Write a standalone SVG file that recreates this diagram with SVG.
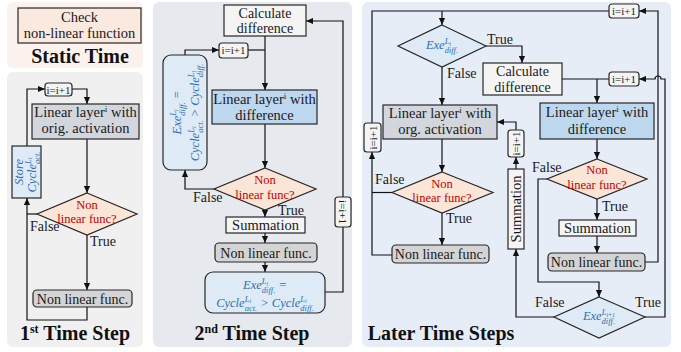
<svg xmlns="http://www.w3.org/2000/svg" width="681" height="352" viewBox="0 0 681 352">
<defs>
<marker id="ah" viewBox="0 0 8 8" refX="8" refY="4" markerWidth="7" markerHeight="7" markerUnits="userSpaceOnUse" orient="auto"><path d="M0,0.5 L8,4 L0,7.5 z" fill="#111"/></marker>
<style>
.t{font-family:"Liberation Serif","Times New Roman",serif;font-size:14.5px;fill:#1a1a1a;text-anchor:middle}
.nf{font-size:14px}
.cd{font-size:14px}
.inc{font-family:"Liberation Serif","Times New Roman",serif;font-size:11px;fill:#1a1a1a;text-anchor:middle}
.lab{font-family:"Liberation Serif","Times New Roman",serif;font-size:14px;fill:#1a1a1a}
.title{font-family:"Liberation Serif","Times New Roman",serif;font-size:20px;font-weight:bold;fill:#111;text-anchor:middle}
.red{font-family:"Liberation Serif","Times New Roman",serif;font-size:12.5px;fill:#c00000;text-anchor:middle}
.m{font-family:"Liberation Serif","Times New Roman",serif;font-style:italic;font-size:12.5px;fill:#2f6eb0;text-anchor:middle}
.sp{font-size:8.5px}
.ss{font-size:6px}
.bx{stroke:#262626;stroke-width:1.2}
.gray{fill:#d3d7dd}
.blue{fill:#bdd7ee}
.light{fill:#f4f4f4}
.nlf{fill:#d4d4d4}
.dia{fill:#fbe5d6}
.exe{fill:#deebf7}
.c{fill:none;stroke:#111;stroke-width:1.2}
.a{marker-end:url(#ah)}
</style>
</defs>

<!-- panel backgrounds -->
<rect x="7" y="2" width="136" height="66" rx="6" fill="#fcf2ed"/>
<rect x="7" y="72" width="136" height="275" rx="6" fill="#f0f0f0"/>
<rect x="153" y="2" width="199" height="345" rx="6" fill="#e6e9ee"/>
<rect x="362" y="2" width="309" height="345" rx="6" fill="#e7edf7"/>

<!-- panel titles -->
<text class="title" x="80" y="63">Static Time</text>
<text class="title" x="75" y="340">1<tspan font-size="12" dy="-7">st</tspan><tspan dy="7"> Time Step</tspan></text>
<text class="title" x="252" y="340">2<tspan font-size="12" dy="-7">nd</tspan><tspan dy="7"> Time Step</tspan></text>
<text class="title" x="441" y="340">Later Time Steps</text>

<!-- connectors -->
<g id="connectors">
  <!-- first time step -->
  <path class="c a" d="M87,307 V320 H27 V198"/>
  <path class="c" d="M37,214 H27"/>
  <path class="c a" d="M27,146 V89 H45"/>
  <path class="c a" d="M72,89 H87 V104"/>
  <path class="c a" d="M87,139 V193"/>
  <path class="c a" d="M87,235 V290"/>
  <!-- second time step -->
  <path class="c a" d="M265,36 V90"/>
  <path class="c a" d="M185,55 V50 H219"/>
  <path class="c" d="M248,50 H265"/>
  <path class="c a" d="M265,124 V168"/>
  <path class="c a" d="M214,189 H185 V170"/>
  <path class="c a" d="M265,210 V217"/>
  <path class="c a" d="M265,233 V243"/>
  <path class="c a" d="M265,262 V272"/>
  <path class="c a" d="M325,292 H343 V21 H306"/>
  <!-- later time steps -->
  <path class="c" d="M372,123 V11 H609"/>
  <path class="c a" d="M442,11 V25"/>
  <path class="c a" d="M645,262 H658 V11 H639"/>
  <path class="c a" d="M486,46 H522 V63"/>
  <path class="c a" d="M442,67 V105"/>
  <path class="c" d="M562,79 H609"/>
  <path class="c a" d="M597,79 V103"/>
  <path class="c a" d="M645,317 H665 V79 H661 a3,3 0 0 0 -6,0 H639"/>
  <path class="c a" d="M442,139 V172"/>
  <path class="c" d="M392,192.5 H372"/>
  <path class="c a" d="M442,213 V245"/>
  <path class="c a" d="M392,255 H372 V152"/>
  <path class="c a" d="M597,139 V159"/>
  <path class="c a" d="M597,199 V220"/>
  <path class="c a" d="M597,236 V253"/>
  <path class="c a" d="M547,179 H538 V282 H599 V297"/>
  <path class="c a" d="M554,317 H516 V249"/>
  <path class="c a" d="M516,169 V157"/>
  <path class="c a" d="M516,130 V122 H497"/>
</g>

<!-- static time -->
<g id="check-nonlinear">
  <rect class="bx" x="18" y="8" width="123" height="35" fill="#fae9df"/>
  <text class="t" x="79.5" y="22">Check</text>
  <text class="t" x="79.5" y="38">non-linear function</text>
</g>

<!-- first time step -->
<g id="s1-inc">
  <rect class="bx light" x="45" y="83" width="27" height="13" rx="3"/>
  <text class="inc" x="58.5" y="93.5">i=i+1</text>
</g>
<g id="s1-linear">
  <rect class="bx gray" x="32" y="104" width="107" height="35"/>
  <text class="t" x="85.5" y="117">Linear layer<tspan font-size="9" dy="-5">i</tspan><tspan dy="5"> with</tspan></text>
  <text class="t" x="85.5" y="133">orig. activation</text>
</g>
<g id="s1-store">
  <rect class="bx exe" x="12" y="146" width="29" height="52"/>
  <text class="m" transform="translate(23,172) rotate(-90)">Store</text>
  <text class="m" transform="translate(35.5,172) rotate(-90)">Cycle<tspan class="sp" dy="-5">L</tspan><tspan class="ss" dy="1.5">i</tspan><tspan class="sp" dx="-6.4" dy="7.5">act.</tspan></text>
</g>
<g id="s1-nonlinear">
  <polygon class="bx dia" points="87,193 137,214 87,235 37,214"/>
  <text class="red" x="87" y="208.5">Non</text>
  <text class="red" x="87" y="223">linear func?</text>
</g>
<g id="s1-nlf">
  <rect class="bx nlf" x="33" y="290" width="99" height="17" rx="4"/>
  <text class="t nf" x="82.5" y="303.5">Non linear func.</text>
</g>
<text class="lab" x="30" y="231">False</text>
<text class="lab" x="90" y="246">True</text>

<!-- second time step -->
<g id="s2-calc">
  <rect class="bx light" x="224" y="5" width="82" height="31"/>
  <text class="t cd" x="265" y="17.5">Calculate</text>
  <text class="t cd" x="265" y="32.5">difference</text>
</g>
<g id="s2-inc">
  <rect class="bx light" x="219" y="43" width="29" height="15" rx="3"/>
  <text class="inc" x="233.5" y="54">i=i+1</text>
</g>
<g id="s2-cond">
  <rect class="bx exe" x="163" y="55" width="44" height="115" rx="8"/>
  <text class="m" transform="translate(181,112.5) rotate(-90)">Exe<tspan class="sp" dy="-5">L</tspan><tspan class="ss" dy="1.5">i</tspan><tspan class="sp" dx="-6.4" dy="7.5">diff.</tspan><tspan dy="-4">&#160;=</tspan></text>
  <text class="m" transform="translate(199,112.5) rotate(-90)">Cycle<tspan class="sp" dy="-5">L</tspan><tspan class="ss" dy="1.5">i</tspan><tspan class="sp" dx="-6.4" dy="7.5">act.</tspan><tspan dy="-4">&#160;&gt; Cycle</tspan><tspan class="sp" dy="-5">L</tspan><tspan class="ss" dy="1.5">i</tspan><tspan class="sp" dx="-6.4" dy="7.5">diff.</tspan></text>
</g>
<g id="s2-linear">
  <rect class="bx blue" x="212" y="90" width="105" height="34"/>
  <text class="t" x="264.5" y="104">Linear layer<tspan font-size="9" dy="-5">i</tspan><tspan dy="5"> with</tspan></text>
  <text class="t" x="264.5" y="119.5">difference</text>
</g>
<g id="s2-nonlinear">
  <polygon class="bx dia" points="265,168 316,189 265,210 214,189"/>
  <text class="red" x="265" y="184">Non</text>
  <text class="red" x="265" y="198.5">linear func?</text>
</g>
<g id="s2-sum">
  <rect class="bx light" x="226" y="217" width="79" height="16"/>
  <text class="t" x="265.5" y="230">Summation</text>
</g>
<g id="s2-nlf">
  <rect class="bx nlf" x="215" y="243" width="102" height="19" rx="4"/>
  <text class="t nf" x="266" y="257.5">Non linear func.</text>
</g>
<g id="s2-exe">
  <rect class="bx exe" x="205" y="272" width="120" height="41" rx="8"/>
  <text class="m" x="265" y="289">Exe<tspan class="sp" dy="-5">L</tspan><tspan class="ss" dy="1.5">i</tspan><tspan class="sp" dx="-6.4" dy="7.5">diff.</tspan><tspan dy="-4">&#160;=</tspan></text>
  <text class="m" x="265" y="306.5">Cycle<tspan class="sp" dy="-5">L</tspan><tspan class="ss" dy="1.5">i</tspan><tspan class="sp" dx="-6.4" dy="7.5">act.</tspan><tspan dy="-4">&#160;&gt; Cycle</tspan><tspan class="sp" dy="-5">L</tspan><tspan class="ss" dy="1.5">i</tspan><tspan class="sp" dx="-6.4" dy="7.5">diff.</tspan></text>
</g>
<g id="s2-inc-back">
  <rect class="bx light" x="335" y="197" width="16" height="30" rx="3"/>
  <text class="inc" dominant-baseline="central" transform="translate(343,212) rotate(90)">i=i+1</text>
</g>
<text class="lab" x="193" y="202">False</text>
<text class="lab" x="278" y="215">True</text>

<!-- later time steps -->
<g id="l-inc-top">
  <rect class="bx light" x="609" y="4" width="30" height="14" rx="3"/>
  <text class="inc" x="624" y="15">i=i+1</text>
</g>
<g id="l-exe">
  <polygon class="bx exe" points="442,25 486,46 442,67 398,46"/>
  <text class="m" x="442" y="49">Exe<tspan class="sp" dy="-5">L</tspan><tspan class="ss" dy="1.5">i</tspan><tspan class="sp" dx="-6.4" dy="7.5">diff.</tspan></text>
</g>
<g id="l-calc">
  <rect class="bx light" x="483" y="63" width="79" height="32"/>
  <text class="t cd" x="522.5" y="76">Calculate</text>
  <text class="t cd" x="522.5" y="91.5">difference</text>
</g>
<g id="l-inc-mid">
  <rect class="bx light" x="609" y="72" width="30" height="14" rx="3"/>
  <text class="inc" x="624" y="83">i=i+1</text>
</g>
<g id="l-linear-org">
  <rect class="bx gray" x="383" y="105" width="114" height="34"/>
  <text class="t" x="440" y="118">Linear layer<tspan font-size="9" dy="-5">i</tspan><tspan dy="5"> with</tspan></text>
  <text class="t" x="440" y="134">org. activation</text>
</g>
<g id="l-linear-diff">
  <rect class="bx blue" x="540" y="103" width="114" height="36"/>
  <text class="t" x="597" y="117">Linear layer<tspan font-size="9" dy="-5">i</tspan><tspan dy="5"> with</tspan></text>
  <text class="t" x="597" y="133.5">difference</text>
</g>
<g id="l-inc-left">
  <rect class="bx light" x="364" y="123" width="17" height="29" rx="3"/>
  <text class="inc" dominant-baseline="central" transform="translate(372.5,137.5) rotate(-90)">i=i+1</text>
</g>
<g id="l-inc-right">
  <rect class="bx light" x="508" y="130" width="16" height="27" rx="3"/>
  <text class="inc" dominant-baseline="central" transform="translate(516,143.5) rotate(-90)">i=i+1</text>
</g>
<g id="l-sum-v">
  <rect class="bx light" x="508" y="169" width="16" height="80"/>
  <text class="t" dominant-baseline="central" transform="translate(516,209) rotate(-90)">Summation</text>
</g>
<g id="l-nl-left">
  <polygon class="bx dia" points="442,172 493,192.5 442,213 392,192.5"/>
  <text class="red" x="442" y="187.5">Non</text>
  <text class="red" x="442" y="202">linear func?</text>
</g>
<g id="l-nl-right">
  <polygon class="bx dia" points="597,159 647,179 597,199 547,179"/>
  <text class="red" x="597" y="174">Non</text>
  <text class="red" x="597" y="188.5">linear func?</text>
</g>
<g id="l-sum">
  <rect class="bx light" x="559" y="220" width="77" height="16"/>
  <text class="t" x="597.5" y="233">Summation</text>
</g>
<g id="l-nlf-left">
  <rect class="bx nlf" x="392" y="245" width="97" height="18" rx="4"/>
  <text class="t nf" x="440.5" y="259">Non linear func.</text>
</g>
<g id="l-nlf-right">
  <rect class="bx nlf" x="548" y="253" width="97" height="18" rx="4"/>
  <text class="t nf" x="596.5" y="267">Non linear func.</text>
</g>
<g id="l-exe-next">
  <polygon class="bx exe" points="599,297 645,317 599,338 554,317"/>
  <text class="m" x="599" y="320">Exe<tspan class="sp" dy="-5">L</tspan><tspan class="ss" dy="1.5">i+1</tspan><tspan class="sp" dx="-13.5" dy="7.5">diff.</tspan></text>
</g>
<text class="lab" x="487" y="44">True</text>
<text class="lab" x="447" y="78">False</text>
<text class="lab" x="375" y="184">False</text>
<text class="lab" x="446" y="223">True</text>
<text class="lab" x="532" y="172">False</text>
<text class="lab" x="602" y="211">True</text>
<text class="lab" x="535" y="307">False</text>
<text class="lab" x="635" y="307">True</text>
</svg>
